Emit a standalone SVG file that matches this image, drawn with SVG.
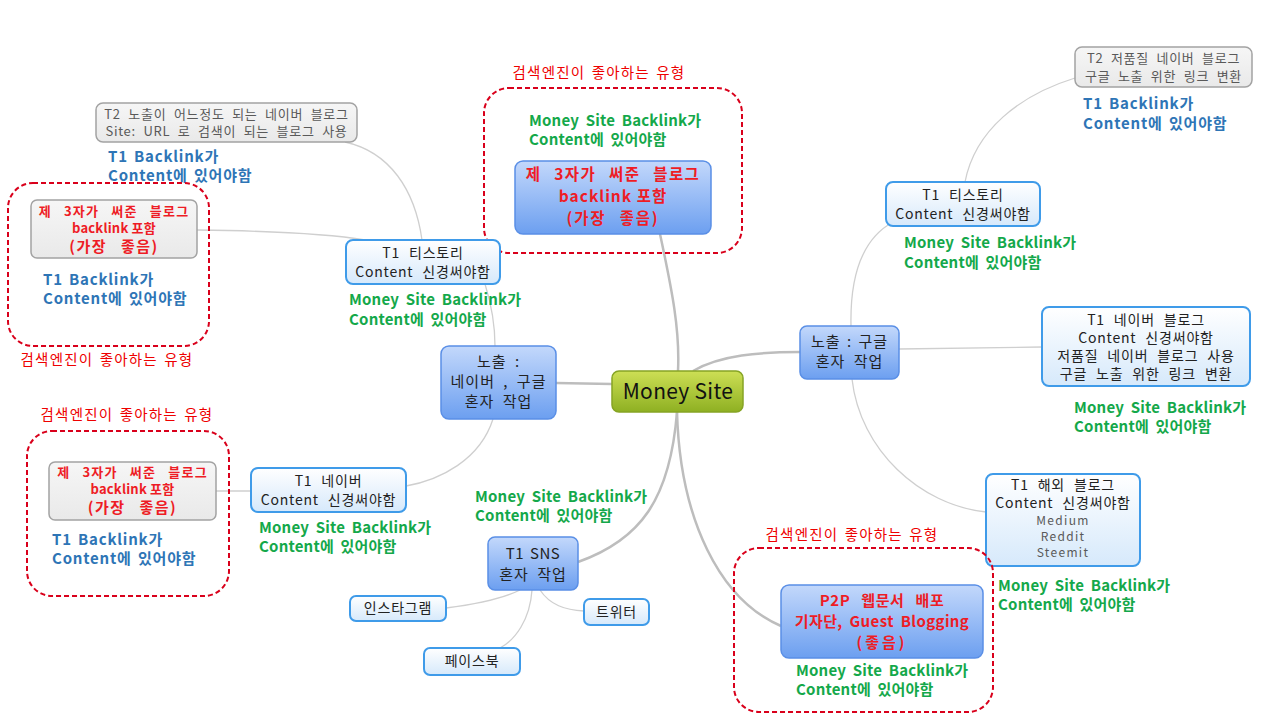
<svg xmlns="http://www.w3.org/2000/svg" width="1280" height="720" viewBox="0 0 1280 720">
<defs>
<linearGradient id="gBlue" x1="0" y1="0" x2="0" y2="1"><stop offset="0" stop-color="#c3d8fb"/><stop offset="1" stop-color="#6c9ff0"/></linearGradient>
<linearGradient id="gLight" x1="0" y1="0" x2="0" y2="1"><stop offset="0" stop-color="#ffffff"/><stop offset="1" stop-color="#d6e9fb"/></linearGradient>
<linearGradient id="gGray" x1="0" y1="0" x2="0" y2="1"><stop offset="0" stop-color="#f6f6f6"/><stop offset="1" stop-color="#e9e9e9"/></linearGradient>
<linearGradient id="gGreen" x1="0" y1="0" x2="0" y2="1"><stop offset="0" stop-color="#cddf55"/><stop offset="1" stop-color="#8eb022"/></linearGradient>
</defs>
<style>
text{font-family:"Noto Sans CJK KR","Noto Sans",sans-serif;}
.blue{fill:url(#gBlue);stroke:#5a8fe6;stroke-width:1.5;}
.light{fill:url(#gLight);stroke:#3f9be9;stroke-width:2;}
.gray{fill:url(#gGray);stroke:#a3a3a3;stroke-width:1.5;}
.green{fill:url(#gGreen);stroke:#86a424;stroke-width:1.5;}
.dash{fill:none;stroke:#d9001b;stroke-width:2;stroke-dasharray:5 3;}
.main{fill:none;stroke:#bdbdbd;stroke-width:2.5;}
.thin{fill:none;stroke:#cfcfcf;stroke-width:1.3;}
.t{font-size:14px;fill:#222;text-anchor:middle;letter-spacing:0.8px;word-spacing:5px;}
.t15{font-size:15px;fill:#222;text-anchor:middle;letter-spacing:1px;word-spacing:4px;}
.tg{font-size:13px;fill:#595959;text-anchor:middle;letter-spacing:0.7px;word-spacing:4px;}
.ts{font-size:12px;fill:#595959;text-anchor:middle;letter-spacing:1.3px;}
.grn{font-size:15px;font-weight:bold;fill:#14a84a;letter-spacing:0.2px;word-spacing:3px;}
.bl{font-size:15px;font-weight:bold;fill:#2e75b6;letter-spacing:0.8px;word-spacing:2px;}
.lbl{font-size:14.5px;fill:#ee0000;text-anchor:middle;letter-spacing:1.2px;word-spacing:2px;}
.red{fill:#ee1c25;text-anchor:middle;font-weight:bold;}
.r1{font-size:13px;letter-spacing:1.2px;word-spacing:8px;}
.r2{font-size:13px;letter-spacing:0.2px;}
.r3{font-size:15px;letter-spacing:1.5px;word-spacing:9px;}
.R1{font-size:15.5px;letter-spacing:1.4px;word-spacing:8px;}
.R2{font-size:15.5px;letter-spacing:1px;}
.R3{font-size:15.5px;letter-spacing:1.8px;word-spacing:8px;}
</style>

<g id="connectors">
<path class="main" d="M660 234 C672 290 680 330 678 371"/>
<path class="main" d="M556 383 L612 384"/>
<path class="main" d="M693 371 C720 355 760 352 800 352"/>
<path class="main" d="M677 412 C670 500 640 540 578 562"/>
<path class="main" d="M677 412 C680 520 720 600 781 626"/>
<path class="thin" d="M495 346 C495 320 490 300 485 284"/>
<path class="thin" d="M422 240 C415 190 390 152 345 142"/>
<path class="thin" d="M197 230 C280 231 330 234 365 240"/>
<path class="thin" d="M493 419 C480 460 440 480 406 486"/>
<path class="thin" d="M216 491 L251 491"/>
<path class="thin" d="M851 326 C850 280 860 240 893 222"/>
<path class="thin" d="M965 182 C975 130 1020 95 1075 78"/>
<path class="thin" d="M899 349 L1042 347"/>
<path class="thin" d="M852 379 C860 450 920 505 986 512"/>
<path class="thin" d="M520 590 C500 600 470 605 446 608"/>
<path class="thin" d="M540 590 C550 605 565 610 584 611"/>
<path class="thin" d="M532 590 C530 620 515 640 500 648"/>
</g>

<g id="money-site">
<rect class="green" x="612" y="371" width="131" height="41" rx="7"/>
<text x="678" y="399" style="font-size:21px;fill:#111;text-anchor:middle;letter-spacing:0.3px;">Money Site</text>
</g>

<g id="top-group">
<text class="lbl" x="599" y="78">검색엔진이 좋아하는 유형</text>
<rect class="dash" x="484" y="88" width="258" height="165" rx="25"/>
<text class="grn" x="529" y="126">Money Site Backlink가</text>
<text class="grn" x="529" y="145">Content에 있어야함</text>
</g>
<g id="top-node">
<rect class="blue" x="515" y="161" width="196" height="73" rx="8"/>
<text class="red R1" x="613" y="180">제 3자가 써준 블로그</text>
<text class="red R2" x="613" y="202">backlink 포함</text>
<text class="red R3" x="613" y="224">(가장 좋음)</text>
</g>

<g id="left-exposure">
<rect class="blue" x="441" y="346" width="115" height="73" rx="8"/>
<text class="t15" x="498.5" y="367">노출 :</text>
<text class="t15" x="498.5" y="387">네이버 , 구글</text>
<text class="t15" x="498.5" y="407">혼자 작업</text>
</g>

<g id="left-tistory">
<rect class="light" x="346" y="240" width="154" height="44" rx="7"/>
<text class="t" x="423" y="258">T1 티스토리</text>
<text class="t" x="423" y="277">Content 신경써야함</text>
<text class="grn" x="349" y="305">Money Site Backlink가</text>
<text class="grn" x="349" y="325">Content에 있어야함</text>
</g>

<g id="left-t2">
<rect class="gray" x="96" y="103" width="261" height="39" rx="7"/>
<text class="tg" x="226.5" y="118.5">T2 노출이 어느정도 되는 네이버 블로그</text>
<text class="tg" x="226.5" y="136">Site: URL 로 검색이 되는 블로그 사용</text>
<text class="bl" x="108" y="162">T1 Backlink가</text>
<text class="bl" x="108" y="181">Content에 있어야함</text>
</g>

<g id="left-top-box">
<rect class="dash" x="8" y="183" width="201" height="163" rx="25"/>
<text class="lbl" x="107" y="365">검색엔진이 좋아하는 유형</text>
<text class="bl" x="43" y="285">T1 Backlink가</text>
<text class="bl" x="43" y="304">Content에 있어야함</text>
</g>
<g id="left-top-3rd">
<rect class="gray" x="31" y="200" width="166" height="58" rx="6"/>
<text class="red r1" x="114" y="216">제 3자가 써준 블로그</text>
<text class="red r2" x="114" y="233">backlink 포함</text>
<text class="red r3" x="114" y="252">(가장 좋음)</text>
</g>

<g id="left-naver">
<rect class="light" x="251" y="468" width="155" height="44" rx="7"/>
<text class="t" x="328.5" y="486">T1 네이버</text>
<text class="t" x="328.5" y="505">Content 신경써야함</text>
<text class="grn" x="259" y="533">Money Site Backlink가</text>
<text class="grn" x="259" y="552">Content에 있어야함</text>
</g>

<g id="left-bottom-box">
<text class="lbl" x="127" y="420">검색엔진이 좋아하는 유형</text>
<rect class="dash" x="27" y="431" width="202" height="165" rx="25"/>
<text class="bl" x="52" y="545">T1 Backlink가</text>
<text class="bl" x="52" y="564">Content에 있어야함</text>
</g>
<g id="left-bottom-3rd">
<rect class="gray" x="49" y="462" width="167" height="58" rx="6"/>
<text class="red r1" x="132.5" y="477">제 3자가 써준 블로그</text>
<text class="red r2" x="132.5" y="494">backlink 포함</text>
<text class="red r3" x="132.5" y="513">(가장 좋음)</text>
</g>

<g id="sns">
<text class="grn" x="475" y="502">Money Site Backlink가</text>
<text class="grn" x="475" y="521">Content에 있어야함</text>
<rect class="blue" x="488" y="537" width="90" height="53" rx="7"/>
<text class="t15" x="533" y="559" style="letter-spacing:0.5px;word-spacing:2px">T1 SNS</text>
<text class="t15" x="533" y="580">혼자 작업</text>
</g>
<g id="instagram">
<rect class="light" x="350" y="596" width="96" height="25" rx="6"/>
<text class="t" x="398" y="613">인스타그램</text>
</g>
<g id="twitter">
<rect class="light" x="584" y="599" width="65" height="26" rx="6"/>
<text class="t" x="616.5" y="617">트위터</text>
</g>
<g id="facebook">
<rect class="light" x="424" y="648" width="96" height="27" rx="6"/>
<text class="t" x="472" y="666">페이스북</text>
</g>

<g id="right-exposure">
<rect class="blue" x="800" y="326" width="99" height="53" rx="7"/>
<text class="t15" x="849.5" y="347" style="word-spacing:2px">노출 : 구글</text>
<text class="t15" x="849.5" y="367">혼자 작업</text>
</g>

<g id="right-tistory">
<rect class="light" x="886" y="182" width="154" height="44" rx="7"/>
<text class="t" x="963" y="200">T1 티스토리</text>
<text class="t" x="963" y="219">Content 신경써야함</text>
<text class="grn" x="904" y="248">Money Site Backlink가</text>
<text class="grn" x="904" y="268">Content에 있어야함</text>
</g>

<g id="right-t2">
<rect class="gray" x="1075" y="47" width="177" height="40" rx="7"/>
<text class="tg" x="1163.5" y="63">T2 저품질 네이버 블로그</text>
<text class="tg" x="1163.5" y="81">구글 노출 위한 링크 변환</text>
<text class="bl" x="1083" y="109">T1 Backlink가</text>
<text class="bl" x="1083" y="129">Content에 있어야함</text>
</g>

<g id="right-naver">
<rect class="light" x="1042" y="307" width="208" height="79" rx="7"/>
<text class="t" x="1146" y="325">T1 네이버 블로그</text>
<text class="t" x="1146" y="343">Content 신경써야함</text>
<text class="t" x="1146" y="361">저품질 네이버 블로그 사용</text>
<text class="t" x="1146" y="379">구글 노출 위한 링크 변환</text>
<text class="grn" x="1074" y="413">Money Site Backlink가</text>
<text class="grn" x="1074" y="432">Content에 있어야함</text>
</g>

<g id="right-overseas">
<rect class="light" x="986" y="474" width="154" height="92" rx="7"/>
<text class="t" x="1063" y="490">T1 해외 블로그</text>
<text class="t" x="1063" y="508">Content 신경써야함</text>
<text class="ts" x="1063" y="525">Medium</text>
<text class="ts" x="1063" y="541">Reddit</text>
<text class="ts" x="1063" y="557">Steemit</text>
<text class="grn" x="998" y="591">Money Site Backlink가</text>
<text class="grn" x="998" y="610">Content에 있어야함</text>
</g>

<g id="p2p-box">
<text class="lbl" x="852" y="540">검색엔진이 좋아하는 유형</text>
<rect class="dash" x="734" y="548" width="259" height="164" rx="25"/>
<text class="grn" x="796" y="676">Money Site Backlink가</text>
<text class="grn" x="796" y="695">Content에 있어야함</text>
</g>
<g id="p2p">
<rect class="blue" x="781" y="585" width="202" height="73" rx="8"/>
<text class="red" x="882" y="606" style="font-size:15px;letter-spacing:0.6px;word-spacing:7px">P2P 웹문서 배포</text>
<text class="red" x="882" y="627" style="font-size:15px;letter-spacing:0.4px;word-spacing:3px">기자단, Guest Blogging</text>
<text class="red" x="882" y="648" style="font-size:15px;letter-spacing:3px">(좋음)</text>
</g>
</svg>
